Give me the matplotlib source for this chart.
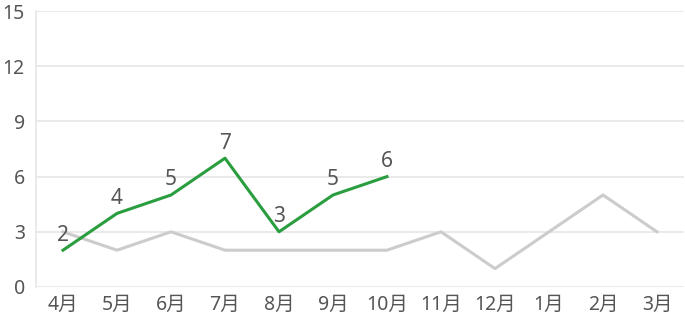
import matplotlib.pyplot as plt

plt.rcParams['font.family'] = ['Noto Sans', 'Noto Sans CJK JP', 'DejaVu Sans']

months = ['4月', '5月', '6月', '7月', '8月', '9月', '10月', '11月', '12月', '1月', '2月', '3月']
last_year = [3, 2, 3, 2, 2, 2, 2, 3, 1, 3, 5, 3]
this_year = [2, 4, 5, 7, 3, 5, 6]
yticks = [0, 3, 6, 9, 12, 15]

fig = plt.figure(figsize=(6.85, 3.3), dpi=100)
ax = fig.add_axes([36 / 685, 43 / 330, 648 / 685, 276 / 330])

x = range(len(months))
ax.plot(x, last_year, color='#cccccc', lw=2.2, zorder=2)
ax.plot(range(len(this_year)), this_year, color='#2a9d3f', lw=2.2, zorder=3)
for i, v in enumerate(this_year):
    ax.text(i, v + 0.25, str(v), ha='center', va='bottom', fontsize=15, color='#555555', zorder=4)

ax.set_xlim(-0.5, len(months) - 0.5)
ax.set_ylim(0, 15)
ax.set_yticks(yticks)
ax.set_xticks(list(x))
ax.set_xticklabels(months)
ax.grid(axis='y', color='#e6e6e6', lw=1.2)
ax.set_axisbelow(True)
for s in ['top', 'right', 'bottom']:
    ax.spines[s].set_visible(False)
ax.spines['left'].set_color('#e6e6e6')
ax.spines['left'].set_linewidth(1.2)
ax.tick_params(length=0, labelsize=14, labelcolor='#555555')
ax.tick_params(axis='x', pad=6)
ax.tick_params(axis='y', pad=8)

fig.savefig('out.png', dpi=100)
